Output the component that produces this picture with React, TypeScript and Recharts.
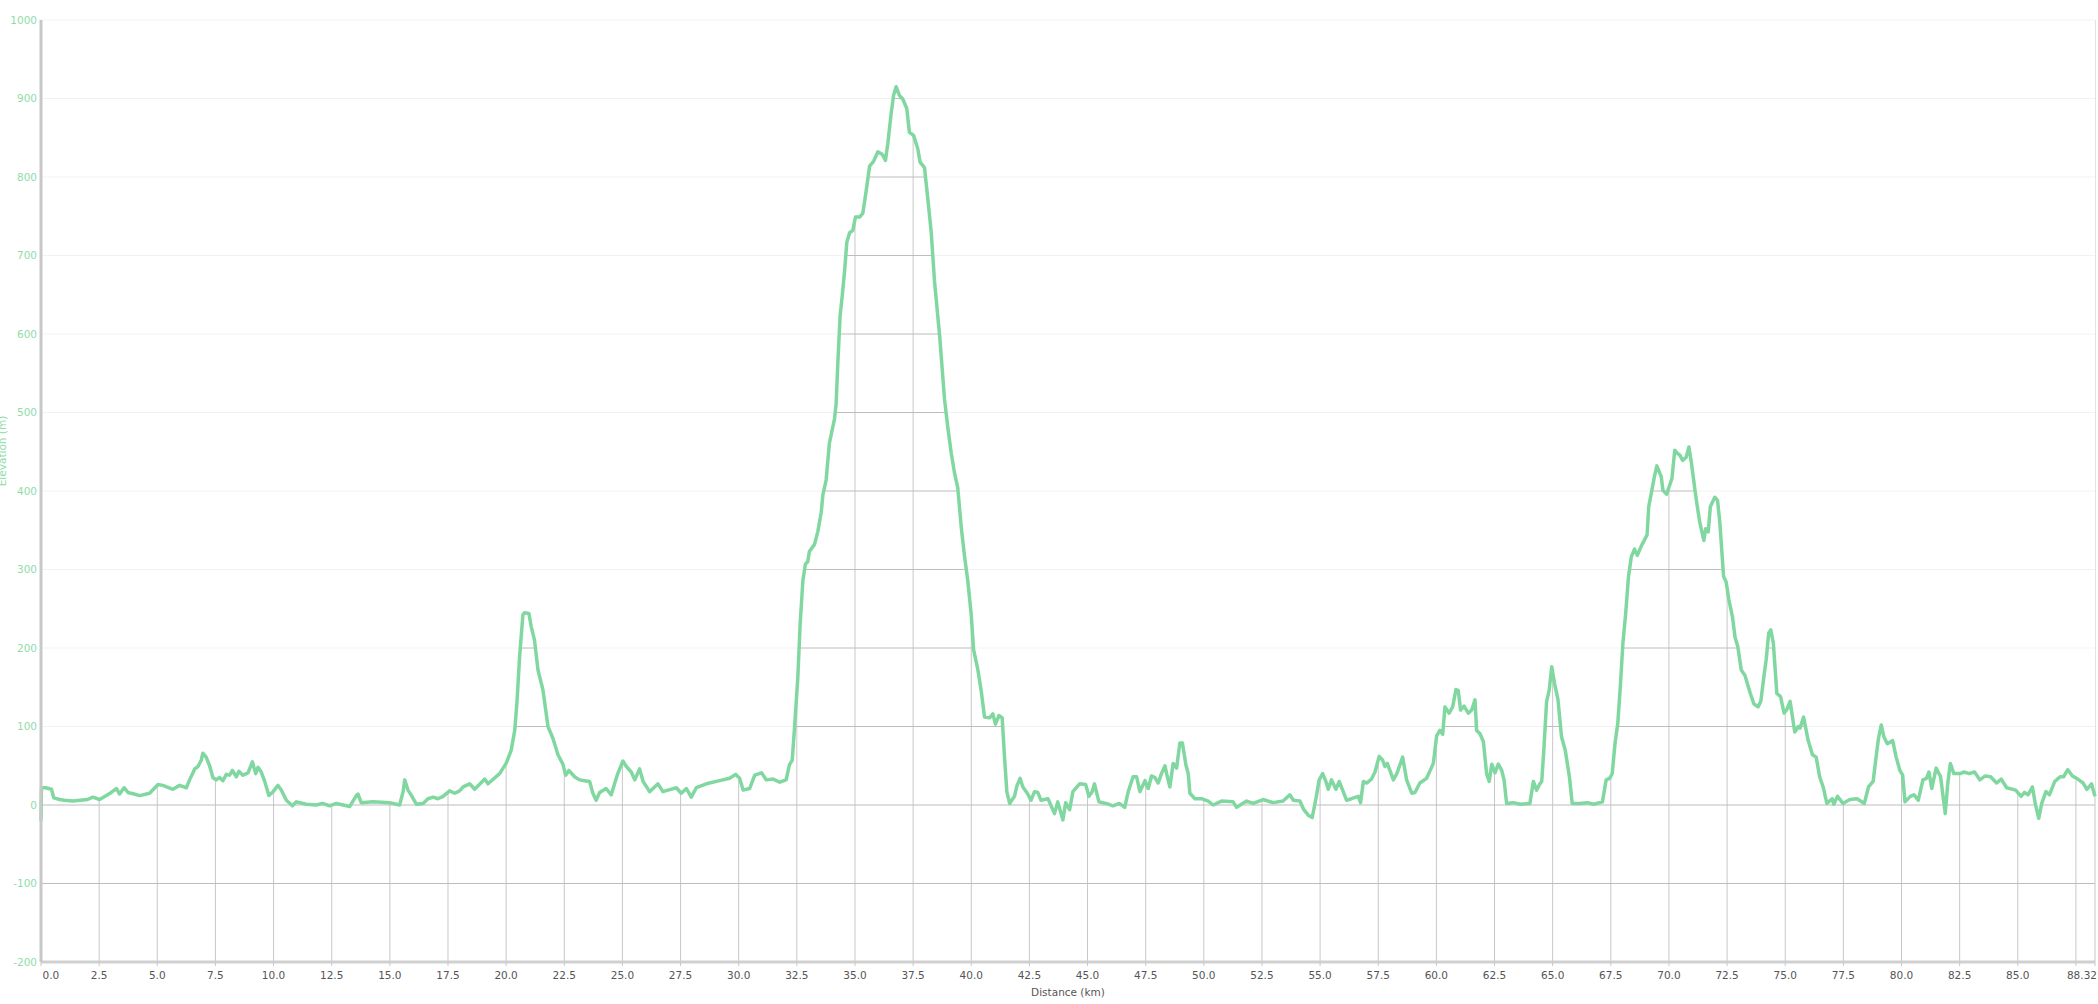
import React from 'react';
import { ComposedChart, Area, Line, XAxis, YAxis, CartesianGrid } from 'recharts';

// elevation profile
const distanceKm = [
  0, 0.02, 0.2, 0.45, 0.55, 0.8, 1.0, 1.37, 1.7, 2.0, 2.23, 2.52, 2.81, 3.02, 3.24, 3.38, 3.57, 3.74, 4.0, 4.24,
  4.67, 5.03, 5.24, 5.67, 5.96, 6.25, 6.39, 6.61, 6.75, 6.89, 6.96, 7.1, 7.25, 7.39, 7.53, 7.68, 7.82, 7.97, 8.11, 8.23,
  8.4, 8.51, 8.68, 8.9, 9.09, 9.23, 9.33, 9.47, 9.62, 9.8, 9.98, 10.19, 10.33, 10.55, 10.81, 10.98, 11.41, 11.84, 12.1, 12.41,
  12.7, 13.0, 13.27, 13.56, 13.63, 13.77, 14.28, 14.99, 15.42, 15.57, 15.64, 15.78, 15.93, 16.14, 16.43, 16.64, 16.86, 17.07, 17.29, 17.57,
  17.79, 18.0, 18.15, 18.43, 18.65, 19.08, 19.22, 19.72, 20.0, 20.22, 20.37, 20.47, 20.58, 20.72, 20.79, 20.98, 21.08, 21.22, 21.37, 21.58,
  21.8, 22.01, 22.23, 22.44, 22.56, 22.7, 22.94, 23.16, 23.37, 23.59, 23.73, 23.87, 24.02, 24.3, 24.52, 24.62, 24.8, 25.02, 25.17, 25.38,
  25.53, 25.74, 25.89, 26.17, 26.53, 26.74, 26.96, 27.32, 27.53, 27.75, 27.96, 28.18, 28.61, 29.18, 29.61, 29.87, 30.04, 30.19, 30.47, 30.69,
  30.98, 31.19, 31.48, 31.77, 32.04, 32.18, 32.3, 32.4, 32.54, 32.64, 32.76, 32.87, 32.97, 33.04, 33.26, 33.4, 33.55, 33.62, 33.76, 33.9,
  34.12, 34.19, 34.26, 34.36, 34.45, 34.55, 34.65, 34.77, 34.91, 35.02, 35.2, 35.34, 35.48, 35.63, 35.8, 35.98, 36.17, 36.31, 36.41, 36.56,
  36.66, 36.77, 36.91, 37.06, 37.23, 37.34, 37.52, 37.7, 37.8, 37.99, 38.13, 38.28, 38.42, 38.64, 38.85, 39.0, 39.14, 39.28, 39.42, 39.57,
  39.71, 39.85, 40.0, 40.1, 40.28, 40.43, 40.57, 40.79, 40.93, 41.04, 41.19, 41.33, 41.43, 41.53, 41.65, 41.86, 41.96, 42.1, 42.22, 42.43,
  42.57, 42.72, 42.86, 43.0, 43.3, 43.58, 43.72, 43.94, 44.06, 44.23, 44.37, 44.66, 44.92, 45.06, 45.2, 45.3, 45.49, 45.8, 46.1, 46.37,
  46.6, 46.75, 46.96, 47.11, 47.25, 47.47, 47.61, 47.75, 47.9, 48.04, 48.18, 48.33, 48.43, 48.54, 48.68, 48.83, 48.97, 49.08, 49.23, 49.33,
  49.4, 49.62, 49.9, 50.19, 50.4, 50.76, 51.26, 51.41, 51.84, 52.12, 52.55, 52.98, 53.41, 53.7, 53.85, 54.13, 54.3, 54.49, 54.66, 54.82,
  54.96, 55.11, 55.25, 55.35, 55.49, 55.68, 55.82, 55.97, 56.14, 56.35, 56.64, 56.74, 56.86, 57.0, 57.21, 57.36, 57.54, 57.69, 57.79, 57.89,
  58.15, 58.3, 58.55, 58.72, 58.94, 59.08, 59.29, 59.58, 59.87, 60.01, 60.15, 60.27, 60.37, 60.55, 60.7, 60.84, 60.94, 61.04, 61.19, 61.37,
  61.52, 61.66, 61.73, 61.87, 62.02, 62.16, 62.27, 62.38, 62.52, 62.66, 62.81, 62.91, 63.02, 63.31, 63.6, 64.02, 64.17, 64.31, 64.45, 64.53,
  64.62, 64.74, 64.85, 64.96, 65.08, 65.23, 65.38, 65.54, 65.72, 65.84, 66.15, 66.5, 66.76, 67.14, 67.3, 67.45, 67.56, 67.68, 67.8, 67.91,
  68.02, 68.14, 68.26, 68.38, 68.52, 68.64, 68.83, 69.06, 69.13, 69.24, 69.36, 69.48, 69.67, 69.74, 69.9, 70.13, 70.25, 70.36, 70.46, 70.59,
  70.74, 70.86, 70.97, 71.12, 71.2, 71.32, 71.5, 71.58, 71.69, 71.78, 71.97, 72.09, 72.19, 72.35, 72.46, 72.58, 72.73, 72.84, 72.96, 73.11,
  73.27, 73.5, 73.65, 73.83, 73.95, 74.08, 74.18, 74.29, 74.38, 74.49, 74.64, 74.8, 74.95, 75.06, 75.21, 75.41, 75.56, 75.64, 75.79, 75.98,
  76.17, 76.33, 76.48, 76.63, 76.79, 77.02, 77.09, 77.25, 77.48, 77.78, 78.09, 78.4, 78.58, 78.78, 78.89, 79.01, 79.13, 79.24, 79.39, 79.62,
  79.77, 79.93, 80.05, 80.15, 80.38, 80.54, 80.72, 80.92, 81.07, 81.18, 81.3, 81.49, 81.68, 81.88, 81.99, 82.1, 82.25, 82.53, 82.68, 82.91,
  83.14, 83.37, 83.6, 83.83, 84.09, 84.29, 84.52, 84.91, 85.14, 85.29, 85.44, 85.63, 85.75, 85.9, 86.03, 86.21, 86.36, 86.59, 86.82, 86.97,
  87.15, 87.35, 87.58, 87.81, 87.97, 88.17, 88.32,
];

const elevationM = [
  -20, 22, 22, 20, 9, 7, 6, 5, 6, 7, 10, 7, 12, 16, 21, 14, 22, 16, 14, 12,
  15, 26, 25, 20, 25, 22, 32, 46, 49, 57, 66, 61, 50, 35, 32, 35, 31, 39, 38, 44,
  36, 43, 38, 41, 55, 40, 48, 42, 30, 12, 17, 25, 19, 6, -1, 4, 1, 0, 2, -1,
  2, 0, -2, 12, 14, 3, 4, 3, 0, 17, 32, 19, 12, 1, 2, 8, 10, 8, 11, 18,
  15, 18, 23, 27, 20, 33, 27, 40, 53, 70, 95, 133, 189, 242, 245, 244, 227, 210, 172, 147,
  100, 85, 64, 52, 38, 44, 36, 32, 31, 30, 15, 6, 16, 21, 13, 23, 40, 56, 49, 42,
  32, 46, 30, 17, 27, 17, 19, 22, 15, 21, 10, 22, 27, 31, 34, 39, 34, 19, 21, 38,
  41, 32, 33, 29, 32, 51, 57, 98, 161, 229, 286, 307, 310, 323, 332, 348, 373, 395, 414, 461,
  492, 511, 561, 623, 648, 679, 717, 729, 732, 749, 749, 754, 782, 814, 820, 832, 829, 821, 842, 882,
  904, 915, 904, 899, 887, 857, 853, 836, 819, 812, 773, 729, 667, 598, 517, 479, 448, 423, 404, 354,
  317, 286, 242, 198, 173, 145, 112, 111, 116, 103, 114, 111, 61, 17, 2, 11, 24, 34, 23, 14,
  6, 17, 16, 6, 8, -11, 4, -19, 3, -6, 17, 27, 26, 11, 17, 27, 4, 2, -1, 2,
  -3, 17, 36, 36, 17, 31, 21, 37, 35, 28, 40, 50, 36, 23, 53, 47, 79, 79, 51, 40,
  15, 8, 8, 5, 0, 5, 4, -3, 5, 2, 7, 3, 5, 13, 6, 5, -6, -13, -16, 8,
  32, 40, 30, 20, 32, 20, 30, 19, 6, 8, 11, 3, 30, 28, 33, 42, 62, 57, 49, 53,
  32, 40, 61, 32, 15, 16, 28, 34, 53, 88, 95, 90, 125, 117, 125, 147, 146, 121, 126, 117,
  121, 134, 95, 91, 81, 40, 30, 52, 41, 52, 44, 32, 2, 3, 1, 2, 30, 19, 27, 30,
  70, 132, 146, 176, 155, 134, 87, 70, 36, 2, 2, 3, 1, 4, 32, 34, 40, 78, 104, 151,
  206, 244, 291, 316, 326, 318, 331, 344, 380, 397, 416, 432, 418, 401, 396, 416, 452, 448, 446, 439,
  443, 456, 435, 401, 384, 361, 337, 352, 348, 380, 392, 388, 359, 291, 284, 261, 240, 214, 202, 172,
  165, 142, 129, 125, 132, 163, 185, 219, 223, 206, 142, 138, 117, 121, 132, 93, 100, 98, 112, 83,
  64, 61, 36, 23, 2, 8, 1, 11, 2, 7, 8, 2, 23, 30, 57, 85, 102, 87, 78, 82,
  61, 44, 38, 4, 11, 13, 6, 32, 34, 42, 21, 47, 36, -11, 28, 53, 40, 40, 42, 40,
  42, 32, 37, 36, 28, 33, 22, 19, 11, 16, 13, 23, 2, -17, 2, 17, 13, 30, 36, 36,
  45, 37, 33, 28, 20, 27, 11,
];

const xTicks = [
  0, 2.5, 5, 7.5, 10, 12.5, 15, 17.5, 20, 22.5, 25, 27.5, 30, 32.5, 35, 37.5, 40, 42.5,
  45, 47.5, 50, 52.5, 55, 57.5, 60, 62.5, 65, 67.5, 70, 72.5, 75, 77.5, 80, 82.5, 85, 87.5, 88.32,
];
const yTicks = [-200, -100, 0, 100, 200, 300, 400, 500, 600, 700, 800, 900, 1000];
// grey grid lines below the profile (the top line stays light)
const darkGridValues = [-200, -100, 0, 100, 200, 300, 400, 500, 600, 700, 800, 900];

const data = distanceKm.map((km, i) => ({ km, elev: elevationM[i] }));

const FONT = '"DejaVu Sans", Verdana, sans-serif';
const GREEN = '#80d8a0';
const LABEL_GREEN = '#8fdcaa';

const DistanceTick = (props: any) => {
  const { x, y, payload } = props;
  const v = payload.value;
  if (v === 87.5) return <g />; // hidden behind 88.32
  let anchor: 'start' | 'middle' | 'end' = 'middle';
  let dx = 0;
  if (v === 0) {
    anchor = 'start';
    dx = 1.5;
  }
  if (v === 88.32) {
    anchor = 'end';
    dx = 2;
  }
  return (
    <text x={x + dx} y={y} dy="0.71em" textAnchor={anchor} fill="#555" fontSize={10.5} fontFamily={FONT}>
      {v === 88.32 ? '88.32' : v.toFixed(1)}
    </text>
  );
};

const ElevationLabel = () => (
  <text x={6} y={451} transform="rotate(-90 6 451)" textAnchor="middle" fill={LABEL_GREEN} fontSize={10.5} fontFamily={FONT}>
    Elevation (m)
  </text>
);

const DistanceLabel = () => (
  <text x={1068} y={996} textAnchor="middle" fill="#555" fontSize={10.5} fontFamily={FONT}>
    Distance (km)
  </text>
);

const App: React.FC = () => {
  return (
    <div style={{ position: 'fixed', top: 0, left: 0, background: '#fff' }}>
      <ComposedChart width={2098} height={1004} data={data} margin={{ top: 20, right: 3, left: 0, bottom: 0 }}>
        <CartesianGrid stroke="#c8c8c8" horizontalValues={darkGridValues} />
        <XAxis
          type="number"
          dataKey="km"
          domain={[0, 88.32]}
          ticks={xTicks}
          interval={0}
          height={42}
          axisLine={{ stroke: '#d0d0d0', strokeWidth: 3 }}
          tickLine={{ stroke: '#c8c8c8' }}
          tickSize={4}
          tickMargin={6}
          tick={<DistanceTick />}
          label={<DistanceLabel />}
        />
        <YAxis
          type="number"
          domain={[-200, 1000]}
          ticks={yTicks}
          interval={0}
          width={41}
          axisLine={{ stroke: '#c8c8c8', strokeWidth: 3 }}
          tickLine={false}
          tickSize={0}
          tickMargin={4}
          tick={{ fill: LABEL_GREEN, fontSize: 10.5, fontFamily: FONT }}
          label={<ElevationLabel />}
        />
        {/* white above the profile hides the grey grid there */}
        <Area
          type="linear"
          dataKey="elev"
          baseValue="dataMax"
          fill="#fff"
          fillOpacity={1}
          stroke="none"
          activeDot={false}
          isAnimationActive={false}
        />
        <CartesianGrid vertical={false} stroke="rgba(0,0,0,0.05)" zIndex={150} />
        <Line
          type="linear"
          dataKey="elev"
          stroke={GREEN}
          strokeWidth={3.5}
          strokeLinejoin="round"
          dot={false}
          activeDot={false}
          isAnimationActive={false}
        />
      </ComposedChart>
    </div>
  );
};

export default App;
